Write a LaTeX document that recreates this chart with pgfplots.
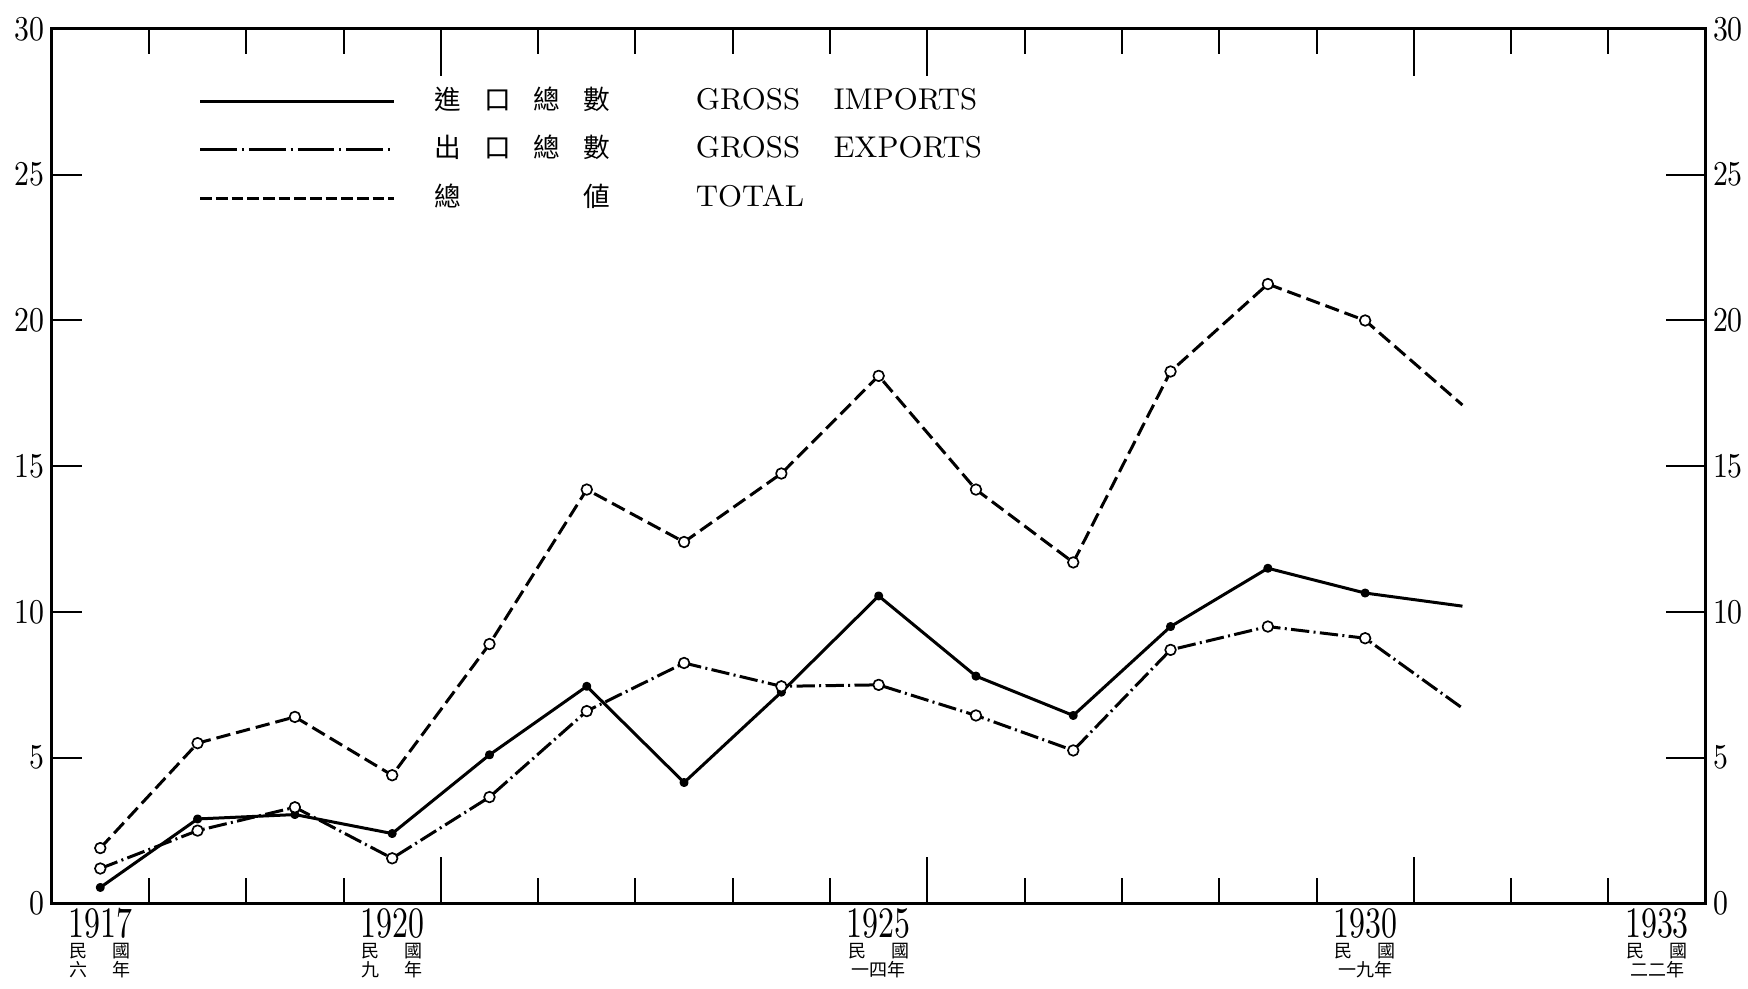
\documentclass[border=0pt]{standalone}
\usepackage{fontspec}
\usepackage{graphicx}
\usepackage{pgfplots}
\usepackage{pgfplotstable}
\pgfplotsset{compat=1.18}
\newfontfamily\cjk{Noto Sans CJK TC}
\newcommand\yr[1]{\scalebox{1}[1.4]{\fontsize{9.3}{9.3}\selectfont #1}}
\newcommand\tl[1]{\scalebox{1}[1.2]{\fontsize{8.7}{8.7}\selectfont #1}}
\newcommand\lab[2]{\yr{#1}\\[0.6pt]{\cjk 民\hspace{7.5pt}國}\\[0.4pt]{\cjk #2}}
\newcommand\leg[2]{\makebox[52.5pt][s]{\fontsize{8}{8}\selectfont\cjk #1}\hspace{25.8pt}{\fontsize{9}{9}\selectfont #2}}

\pgfplotstableread{
year imp exp tot
1917 0.55 1.2  1.9
1918 2.9  2.5  5.5
1919 3.05 3.3  6.4
1920 2.4  1.55 4.4
1921 5.1  3.65 8.9
1922 7.45 6.6  14.2
1923 4.15 8.25 12.4
1924 7.25 7.45 14.75
1925 10.55 7.5 18.1
1926 7.8  6.45 14.2
1927 6.45 5.25 11.7
1928 9.5  8.7  18.25
1929 11.5 9.5  21.25
1930 10.65 9.1 20.0
1931 10.2 6.7  17.1
}\trade

\begin{document}
\begin{tikzpicture}
\begin{axis}[name=ax, scale only axis, width=496.3pt, height=262.4pt,
  xmin=1916.5, xmax=1933.5, ymin=0, ymax=30,
  axis line style={line width=0.9pt},
  xtick={1920.5,1925.5,1930.5},
  minor xtick={1917.5,1918.5,1919.5,1921.5,1922.5,1923.5,1924.5,1926.5,1927.5,1928.5,1929.5,1931.5,1932.5},
  xticklabels={},
  major tick length=14pt, minor tick length=7.5pt,
  tick align=inside, xtick pos=both,
  ytick=\empty,
  tick style={black, line width=0.6pt},
  extra x ticks={1917,1920,1925,1930,1933},
  extra x tick labels={{\lab{1917}{六\hspace{7.5pt}年}},{\lab{1920}{九\hspace{7.5pt}年}},{\lab{1925}{一四年}},{\lab{1930}{一九年}},{\lab{1933}{二二年}}},
  extra x tick style={major tick length=0pt},
  xticklabel style={align=center, font={\fontsize{5.4}{5.4}\selectfont}, inner sep=1.2pt},
  legend style={at={(0.0885,0.862)}, anchor=west, draw=none, fill=none, inner sep=0pt,
    row sep=6.55pt, cells={anchor=west},
    nodes={inner sep=0pt, text height=6.5pt, text depth=1.5pt},
    /tikz/every odd column/.append style={column sep=12pt}},
  every axis plot/.append style={line join=round},
]
\addplot[black, line width=0.9pt, mark=*, mark size=0.9pt,
  mark indices={1,2,3,4,5,6,7,8,9,10,11,12,13,14},
  legend image code/.code={\draw[black, line width=0.9pt] (0pt,0pt) -- (58pt,0pt);}]
  table[x=year, y=imp]{\trade};
\addlegendentry{\leg{進\hfill 口\hfill 總\hfill 數}{GROSS\hspace{10pt}IMPORTS}}
\addplot[black, line width=0.9pt, dash pattern=on 5.5pt off 1.3pt on 0.6pt off 1.3pt,
  mark=*, mark size=1.6pt, mark options={solid, fill=white, line width=0.5pt},
  mark indices={1,2,3,4,5,6,7,8,9,10,11,12,13,14},
  legend image code/.code={\draw[black, line width=0.9pt, dash pattern=on 11pt off 1.5pt on 0.6pt off 1.5pt] (0pt,0pt) -- (58pt,0pt);}]
  table[x=year, y=exp]{\trade};
\addlegendentry{\leg{出\hfill 口\hfill 總\hfill 數}{GROSS\hspace{10pt}EXPORTS}}
\addplot[black, line width=0.9pt, dash pattern=on 4.3pt off 1.8pt,
  mark=*, mark size=1.6pt, mark options={solid, fill=white, line width=0.5pt},
  mark indices={1,2,3,4,5,6,7,8,9,10,11,12,13,14},
  legend image code/.code={\draw[black, line width=0.9pt, dash pattern=on 3.5pt off 1.2pt] (0pt,0pt) -- (58pt,0pt);}]
  table[x=year, y=tot]{\trade};
\addlegendentry{\leg{總\hfill 値}{TOTAL}}
\end{axis}
\begin{axis}[scale only axis, width=496.3pt, height=262.4pt,
  xmin=1916.5, xmax=1933.5, ymin=0, ymax=30,
  axis y line*=left, axis x line=none,
  axis line style={line width=0.9pt},
  ytick={0,5,10,15,20,25,30},
  yticklabels={\tl{0},\tl{5},\tl{10},\tl{15},\tl{20},\tl{25},\tl{30}},
  major tick length=9pt, tick align=inside,
  tick style={black, line width=0.6pt},
  yticklabel style={inner sep=2pt},
]
\end{axis}
\begin{axis}[scale only axis, width=496.3pt, height=262.4pt,
  xmin=1916.5, xmax=1933.5, ymin=0, ymax=30,
  axis y line*=right, axis x line=none,
  axis line style={line width=0.9pt},
  ytick={0,5,10,15,20,25,30},
  yticklabels={\tl{0},\tl{5},\tl{10},\tl{15},\tl{20},\tl{25},\tl{30}},
  major tick length=12pt, tick align=inside,
  tick style={black, line width=0.6pt},
  yticklabel style={inner sep=2pt},
]
\end{axis}
\pgfresetboundingbox
\path[use as bounding box] ([shift={(-15.5pt,-25.6pt)}]ax.south west) rectangle ([shift={(12.7pt,8.7pt)}]ax.north east);
\end{tikzpicture}
\end{document}
